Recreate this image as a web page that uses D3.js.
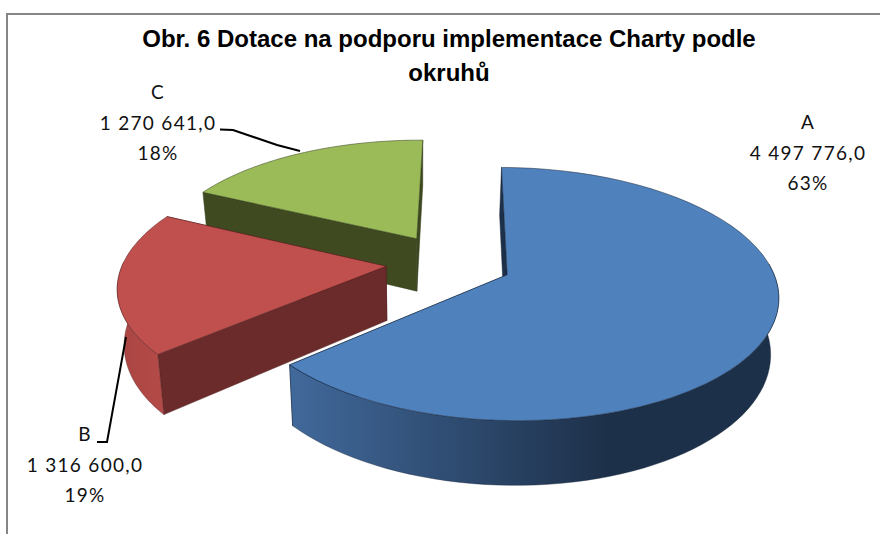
<!DOCTYPE html>
<html lang="cs">

<head>
    <meta charset="UTF-8">
    <script src="https://d3js.org/d3.v7.min.js"></script>
    <title>Obr. 6</title>
    <style>
        html, body { margin: 0; padding: 0; background: #fff; }
        svg { display: block; }
        .title { font: bold 24px "Liberation Sans", sans-serif; fill: #000; text-anchor: middle; }
        .label { font: 19px Lato, sans-serif; letter-spacing: 1.3px; fill: #111; text-anchor: middle; }
    </style>
</head>

<body>
    <div id="chart"></div>

    <script>
        // Data
        var categories = ["A", "B", "C"],
            values = [4497776, 1316600, 1270641],
            valueLabels = ["4 497 776,0", "1 316 600,0", "1 270 641,0"],
            percents = ["63%", "19%", "18%"],
            titleLines = ["Obr. 6 Dotace na podporu implementace Charty podle", "okruhů"];

        // Colours for each slice: top, cut side, outer side left, outer side right
        var topColors = ["#4F81BD", "#C0504D", "#9BBB59"],
            cutColors = ["#1D3049", "#6B2B2A", "#3F4A20"],
            sideFrom = ["#41699B", "#A94543", "#6B8039"],
            sideTo = ["#1D3049", "#B34A47", "#3F4A20"];

        var width = 880,
            height = 534;

        // Projection of the tilted pie plane
        var ox = 449, oy = 262.5,
            rx = 263, ry = 120,
            persp = 0.15,
            explode = 0.24,
            depth = 54,
            vanishX = 420,
            shrink = 0.977,
            firstAngle = 0.5;

        // Where the labels sit (center x, first baseline)
        var labelPos = [[808, 129], [85, 441], [158, 99]],
            lineGap = 30.5;

        // Leader lines for B and C
        var leaders = [
            [[97, 442], [107, 442], [126, 337]],
            [[220, 129.5], [233, 130], [277, 145], [300, 151]]
        ];

        var svg = d3.select("#chart")
            .append("svg")
            .attr("width", width)
            .attr("height", height);

        var defs = svg.append("defs");

        // Frame runs off the right and bottom edges of the picture
        svg.append("rect")
            .attr("x", 7)
            .attr("y", 14)
            .attr("width", width)
            .attr("height", height)
            .attr("fill", "#fff")
            .attr("stroke", "#868686")
            .attr("stroke-width", 2);

        var toRad = Math.PI / 180;

        var pie = d3.pie()
            .sort(null)
            .startAngle(firstAngle * toRad)
            .endAngle((firstAngle + 360) * toRad);

        var slices = pie(values);

        // Point on the plane -> screen; a is the angle clockwise from the top, r the radius
        function topPoint(d, a, r) {
            var mid = (d.startAngle + d.endAngle) / 2;
            var X = explode * Math.sin(mid) + r * Math.sin(a),
                Y = -explode * Math.cos(mid) - r * Math.cos(a),
                s = 1 / (1 - persp * Y);
            return [ox + rx * X * s, oy + ry * Y * s, s];
        }

        function lowPoint(p) {
            return [vanishX + (p[0] - vanishX) * shrink, p[1] + depth * p[2]];
        }

        function arcAngles(from, to) {
            return d3.range(0, 61).map(function (i) {
                return from + (to - from) * i / 60;
            });
        }

        var line = d3.line();

        var g = svg.selectAll(".slice")
            .data(slices)
            .enter()
            .append("g")
            .attr("class", "slice");

        // Back slices first: C, B, A
        g.sort(function (a, b) { return b.index - a.index; });

        g.each(function (d) {
            var el = d3.select(this),
                i = d.index,
                apex = topPoint(d, 0, 0),
                first = topPoint(d, d.startAngle, 1),
                last = topPoint(d, d.endAngle, 1);

            var edgeColor = d3.color(cutColors[i]).darker(0.8);

            // Cut sides: end side first, the start side goes over it
            [last, first].forEach(function (p) {
                el.append("path")
                    .attr("d", line([apex, p, lowPoint(p), lowPoint(apex)]) + "Z")
                    .attr("fill", cutColors[i])
                    .attr("stroke", edgeColor)
                    .attr("stroke-width", 0.5);
            });

            // Outer side, only the half that faces the viewer
            var from = Math.max(d.startAngle, 85 * toRad),
                to = Math.min(d.endAngle, 272 * toRad);

            if (from < to) {
                var rim = arcAngles(from, to).map(function (a) {
                    return topPoint(d, a, 1);
                });
                var outline = rim.concat(rim.slice().reverse().map(lowPoint));

                var xs = d3.scaleLinear()
                    .domain([0, 0.62])
                    .range([d3.min(rim, function (p) { return p[0]; }),
                            d3.max(rim, function (p) { return p[0]; })]);

                var grad = defs.append("linearGradient")
                    .attr("id", "side" + i)
                    .attr("gradientUnits", "userSpaceOnUse")
                    .attr("x1", xs(0)).attr("y1", 0)
                    .attr("x2", xs(0.62)).attr("y2", 0);
                grad.append("stop").attr("offset", 0).attr("stop-color", sideFrom[i]);
                grad.append("stop").attr("offset", i === 0 ? 0.65 : 1).attr("stop-color", sideTo[i]);

                el.append("path")
                    .attr("d", line(outline) + "Z")
                    .attr("fill", "url(#side" + i + ")")
                    .attr("stroke", edgeColor)
                    .attr("stroke-width", 0.4);
            }

            // Top face
            var face = [apex].concat(arcAngles(d.startAngle, d.endAngle).map(function (a) {
                return topPoint(d, a, 1);
            }));

            el.append("path")
                .attr("d", line(face) + "Z")
                .attr("fill", topColors[i])
                .attr("stroke", edgeColor)
                .attr("stroke-width", 0.5);
        });

        // Leader lines
        svg.selectAll(".leader")
            .data(leaders)
            .enter()
            .append("path")
            .attr("class", "leader")
            .attr("d", function (d) { return line(d); })
            .attr("fill", "none")
            .attr("stroke", "#000")
            .attr("stroke-width", 2);

        // Data labels
        var label = svg.selectAll(".label")
            .data(categories)
            .enter()
            .append("text")
            .attr("class", "label")
            .attr("transform", function (d, i) {
                return "translate(" + labelPos[i][0] + "," + labelPos[i][1] + ")";
            });

        label.append("tspan").attr("x", 0).attr("y", 0).text(function (d) { return d; });
        label.append("tspan").attr("x", 0).attr("y", lineGap).text(function (d, i) { return valueLabels[i]; });
        label.append("tspan").attr("x", 0).attr("y", lineGap * 2).text(function (d, i) { return percents[i]; });

        // Title
        svg.selectAll(".title")
            .data(titleLines)
            .enter()
            .append("text")
            .attr("class", "title")
            .attr("x", 449)
            .attr("y", function (d, i) { return 47 + i * 34; })
            .text(function (d) { return d; });
    </script>
</body>

</html>
